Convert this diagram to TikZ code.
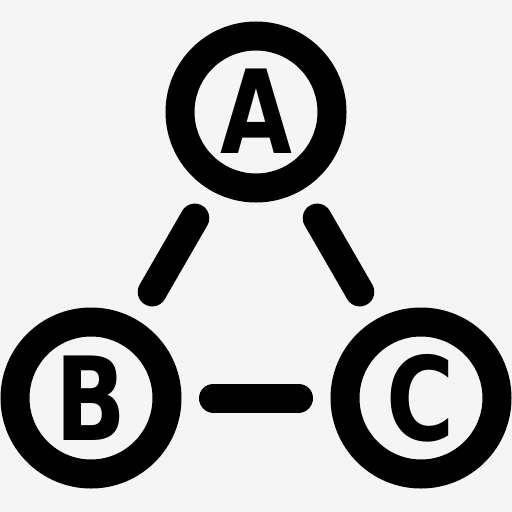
\documentclass[tikz,border=0pt]{standalone}
\usepackage{fontspec}
\setmainfont{DejaVu Sans}
\definecolor{bggray}{RGB}{245,245,245}
\tikzset{
  ring/.style={circle, draw=black, line width=29pt, minimum size=152pt, inner sep=0pt,
    font=\bfseries\fontsize{116}{116}\selectfont},
  link/.style={line width=29pt, line cap=round, shorten >=32pt, shorten <=32pt}
}
\newcommand{\ltr}[1]{\scalebox{0.8}[1]{#1}}
\begin{document}
\begin{tikzpicture}[x=1pt, y=-1pt]
  % background
  \fill[bggray] (0,0) rectangle (512,512);
  \useasboundingbox (0,0) rectangle (512,512);

  % the three rings
  \node[ring] (a) at (256,112) {\raisebox{2pt}{\ltr{A}}};
  \node[ring] (b) at (91,398) {\ltr{B}};
  \node[ring] (c) at (421,398) {\ltr{C}};

  % links between them
  \foreach \u/\v in {a/b, a/c, b/c}
    \draw[link] (\u) -- (\v);
\end{tikzpicture}
\end{document}
